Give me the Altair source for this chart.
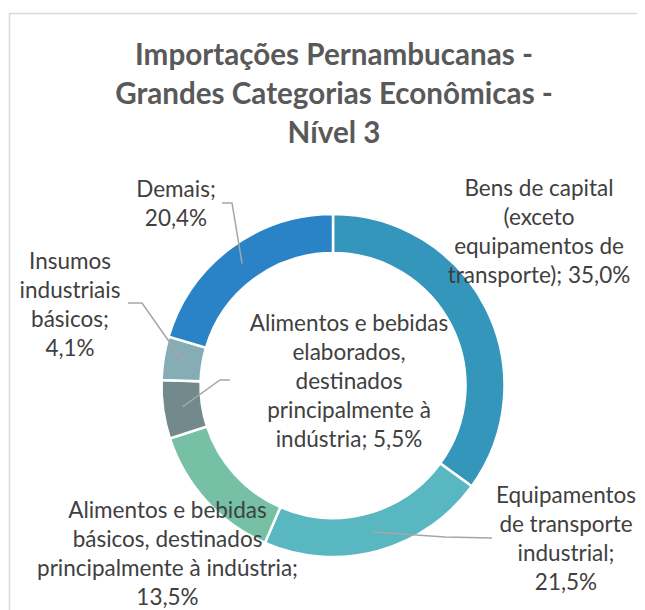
import math
import altair as alt
import pandas as pd

# ---------------- data ----------------
categories = [
    "Bens de capital (exceto equipamentos de transporte)",
    "Equipamentos de transporte industrial",
    "Alimentos e bebidas básicos, destinados principalmente à indústria",
    "Alimentos e bebidas elaborados, destinados principalmente à indústria",
    "Insumos industriais básicos",
    "Demais",
]
values = [35.0, 21.5, 13.5, 5.5, 4.1, 20.4]
colors = ["#3596BC", "#58B7C0", "#76C0A6", "#728A8C", "#86ACB5", "#2A83C6"]
label_lines = [
    ["Bens de capital", "(exceto", "equipamentos de", "transporte); {v}"],
    ["Equipamentos", "de transporte", "industrial;", "{v}"],
    ["Alimentos e bebidas", "básicos, destinados", "principalmente à indústria;", "{v}"],
    ["Alimentos e bebidas", "elaborados,", "destinados", "principalmente à", "indústria; {v}"],
    ["Insumos", "industriais", "básicos;", "{v}"],
    ["Demais;", "{v}"],
]
title_lines = ["Importações Pernambucanas -", "Grandes Categorias Econômicas -", "Nível 3"]

# ---------------- layout (styling) ----------------
OX, OY = 9, 13               # plot origin on the page
W, H = 628, 597
CX, CY = 333 - OX, 385.5 - OY  # donut centre in plot coords
R_IN, R_OUT = 132.5, 171.5
R_MID = (R_IN + R_OUT) / 2
# first-line anchor of each label, page pixels
label_pos = [(539, 189), (566, 496), (167.5, 511), (349, 324), (70, 262), (176, 190)]
leader_path = {  # extra points of leader lines after the slice anchor (page pixels)
    1: [(445, 537), (492, 538)],
    3: [(220, 380), (230, 380)],
    4: [(142, 303), (128, 303)],
    5: [(232, 203), (222, 203)],
}
FONT = "Lato"

# ---------------- tables ----------------
def fmt(v):
    return f"{v:.1f}".replace(".", ",")

slices = pd.DataFrame({"cat": categories, "value": values, "idx": list(range(len(values)))})

lab_rows = []
for i, (lines, v) in enumerate(zip(label_lines, values)):
    txt = "\n".join(l.replace("{v}", fmt(v) + "%") for l in lines)
    lab_rows.append({"x": label_pos[i][0] - OX, "y": label_pos[i][1] - OY, "t": txt})
labels = pd.DataFrame(lab_rows)

total = sum(values)
cum = 0.0
lead_rows = []
for i, v in enumerate(values):
    mid = (cum + v / 2) / total * 2 * math.pi
    cum += v
    if i in leader_path:
        pts = [(CX + R_MID * math.sin(mid), CY - R_MID * math.cos(mid))]
        pts += [(px - OX, py - OY) for px, py in leader_path[i]]
        for k, (px, py) in enumerate(pts):
            lead_rows.append({"g": i, "o": k, "x": px, "y": py})
leaders = pd.DataFrame(lead_rows)

titles = pd.DataFrame({"t": ["\n".join(title_lines)], "x": [334 - OX], "y": [56 - OY]})

# ---------------- chart ----------------
donut = alt.Chart(slices).mark_arc(
    innerRadius=R_IN, outerRadius=R_OUT, stroke="white", strokeWidth=2.5
).encode(
    theta=alt.Theta("value:Q", stack=True),
    color=alt.Color("cat:N", scale=alt.Scale(domain=categories, range=colors), legend=None),
    order=alt.Order("idx:Q"),
    x=alt.value(CX),
    y=alt.value(CY),
)

lead = alt.Chart(leaders).mark_line(color="#A6A6A6", strokeWidth=1.5).encode(
    x=alt.X("x:Q", scale=None, axis=None),
    y=alt.Y("y:Q", scale=None, axis=None),
    detail="g:N",
    order="o:Q",
)

text = alt.Chart(labels).mark_text(
    font=FONT, fontSize=22.5, color="#404040", lineBreak="\n", lineHeight=29,
    align="center", baseline="middle",
).encode(
    x=alt.X("x:Q", scale=None, axis=None),
    y=alt.Y("y:Q", scale=None, axis=None),
    text="t:N",
)

title = alt.Chart(titles).mark_text(
    font=FONT, fontSize=29.6, fontWeight="bold", color="#595959", lineBreak="\n", lineHeight=39,
    align="center", baseline="middle",
).encode(
    x=alt.X("x:Q", scale=None, axis=None),
    y=alt.Y("y:Q", scale=None, axis=None),
    text="t:N",
)

frame_top = alt.Chart(titles).mark_rule(color="#D9D9D9", strokeWidth=1.5).encode(
    x=alt.value(0), x2=alt.value(W), y=alt.value(0.5)
)
frame_left = alt.Chart(titles).mark_rule(color="#D9D9D9", strokeWidth=1.5).encode(
    x=alt.value(0.5), y=alt.value(0), y2=alt.value(H)
)

chart = alt.layer(frame_top, frame_left, donut, lead, text, title).properties(
    width=W, height=H,
    padding={"left": 1, "top": 5, "right": 0, "bottom": 0},
    autosize=alt.AutoSizeParams(type="none"),
).configure_view(stroke=None).configure(background="white")

chart.save("out.html", embed_options={"renderer": "svg", "actions": False})
